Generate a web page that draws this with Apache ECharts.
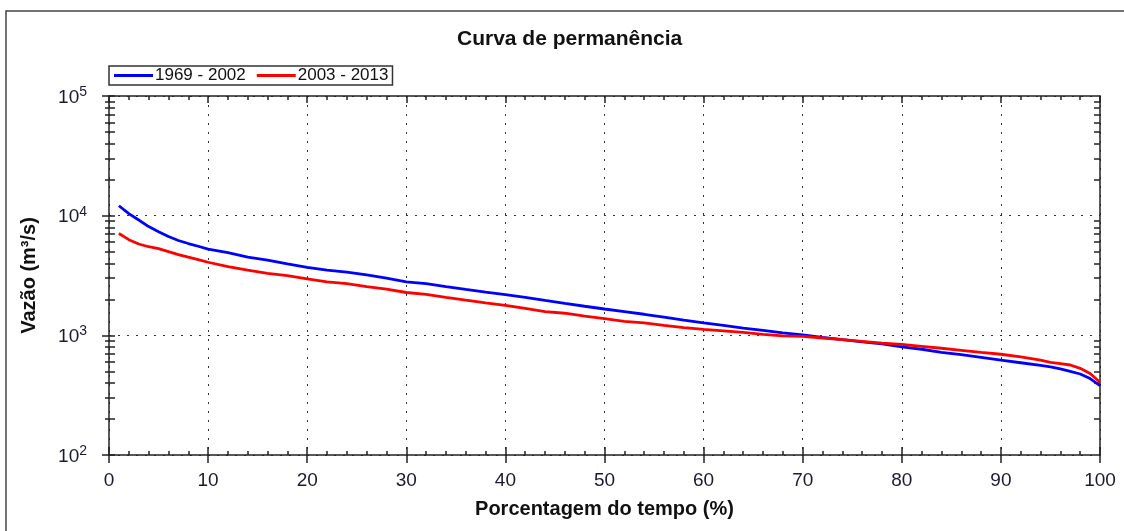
<!DOCTYPE html>
<html>
<head>
<meta charset="utf-8">
<script src="https://cdn.jsdelivr.net/npm/echarts@6/dist/echarts.min.js"></script>
<style>
  html, body { margin: 0; padding: 0; background: #fff; }
  #chart { width: 1124px; height: 531px; }
</style>
</head>
<body>
<div id="chart"></div>
<script>
// percent of time (x)
const pct = [1, 2, 3, 4, 5, 6, 7, 8, 9, 10, 12, 14, 16, 18, 20, 22, 24, 26, 28, 30,
    32, 34, 36, 38, 40, 42, 44, 46, 48, 50, 52, 54, 56, 58, 60, 62, 64, 66, 68, 70,
    72, 74, 76, 78, 80, 82, 84, 86, 88, 90, 92, 94, 95, 96, 97, 98, 99, 100];
// flow 1969 - 2002 (m3/s)
const flowA = [12100, 10400, 9200, 8100, 7350, 6700, 6200, 5850, 5550, 5250, 4900, 4500, 4250, 3950, 3700, 3500, 3380, 3200, 3000, 2800,
    2700, 2550, 2420, 2300, 2190, 2080, 1960, 1850, 1750, 1660, 1580, 1500, 1420, 1340, 1270, 1210, 1150, 1100, 1050, 1010,
    960, 920, 880, 850, 800, 765, 720, 690, 655, 620, 590, 560, 545, 525, 500, 475, 435, 380];
// flow 2003 - 2013 (m3/s)
const flowB = [7100, 6300, 5800, 5500, 5300, 5000, 4730, 4500, 4300, 4080, 3750, 3500, 3300, 3150, 2970, 2800, 2700, 2550, 2430, 2280,
    2200, 2080, 1970, 1870, 1780, 1680, 1580, 1530, 1450, 1380, 1310, 1270, 1210, 1160, 1120, 1090, 1060, 1020, 990, 980,
    950, 920, 890, 860, 840, 810, 780, 750, 720, 695, 660, 620, 595, 580, 565, 530, 480, 405];
const seriesNames = ["1969 - 2002", "2003 - 2013"];
const majorTicks = [100, 1000, 10000, 100000];
const minorTicks = [200, 300, 400, 500, 600, 700, 800, 900,
    2000, 3000, 4000, 5000, 6000, 7000, 8000, 9000,
    20000, 30000, 40000, 50000, 60000, 70000, 80000, 90000];

const chart = echarts.init(document.getElementById("chart"));
const axisColor = "#222";
const font = "'Liberation Sans', Arial, sans-serif";

const logAxis = (extra) => Object.assign({
    type: "log",
    logBase: 10,
    min: 100,
    max: 100000,
    axisLine: { show: false },
    axisTick: { show: false },
    axisLabel: { show: false },
    splitLine: { show: false }
}, extra);

const option = {
    animation: false,
    title: {
        text: "Curva de permanência",
        left: 452,
        top: 24,
        textStyle: { fontFamily: font, fontSize: 21, fontWeight: "bold", color: "#111" }
    },
    legend: {
        left: 109,
        top: 66,
        padding: [1, 4, 1, 5],
        itemGap: 11,
        itemWidth: 39,
        itemHeight: 3,
        icon: "rect",
        borderColor: "#333",
        borderWidth: 1.5,
        borderRadius: 0,
        textStyle: { fontFamily: font, fontSize: 17, color: "#111", padding: [0, 0, 0, -3] },
        data: seriesNames
    },
    graphic: [{
        type: "rect",
        shape: { x: 6, y: 11, width: 1200, height: 600 },
        style: { fill: null, stroke: "#444", lineWidth: 1.5 },
        silent: true
    }],
    grid: { left: 109, right: 24, top: 96, bottom: 76 },
    xAxis: [
        {
            type: "value", min: 0, max: 100, interval: 10, position: "bottom",
            name: "Porcentagem do tempo (%)",
            nameLocation: "middle",
            nameGap: 44,
            nameTextStyle: { fontFamily: font, fontSize: 20, fontWeight: "bold", color: "#111" },
            axisLine: { lineStyle: { color: axisColor, width: 1.5 } },
            axisTick: { inside: true, length: 8, lineStyle: { color: axisColor, width: 1.5 } },
            minorTick: { show: true, splitNumber: 5, length: 4, lineStyle: { color: axisColor, width: 1.5 } },
            axisLabel: { fontFamily: font, fontSize: 19, color: "#1a1a33", margin: 16 },
            splitLine: { show: true, lineStyle: { color: "#333", type: [2, 7], width: 1 } }
        },
        {
            type: "value", min: 0, max: 100, interval: 10, position: "bottom",
            axisLine: { show: false },
            axisTick: { length: 8, lineStyle: { color: axisColor, width: 1.5 } },
            axisLabel: { show: false },
            splitLine: { show: false }
        },
        {
            type: "value", min: 0, max: 100, interval: 10, position: "top",
            axisLine: { lineStyle: { color: axisColor, width: 1.5 } },
            axisTick: { inside: true, length: 7, lineStyle: { color: axisColor, width: 1.5 } },
            minorTick: { show: true, splitNumber: 5, length: 4, lineStyle: { color: axisColor, width: 1.5 } },
            axisLabel: { show: false },
            splitLine: { show: false }
        }
    ],
    yAxis: [
        logAxis({
            position: "left",
            name: "Vazão (m³/s)",
            nameLocation: "middle",
            nameGap: 70,
            nameRotate: 90,
            nameTextStyle: { fontFamily: font, fontSize: 20, fontWeight: "bold", color: "#111" },
            axisLine: { show: true, lineStyle: { color: axisColor, width: 1.5 } },
            axisTick: { show: true, length: 7, lineStyle: { color: axisColor, width: 1.5 } },
            axisLabel: {
                show: true,
                margin: 22,
                formatter: v => "{b|10}{s|" + Math.round(Math.log10(v)) + "}",
                rich: {
                    b: { fontFamily: font, fontSize: 19, color: "#1a1a33", verticalAlign: "bottom", lineHeight: 22, padding: [6, 0, 0, 0] },
                    s: { fontFamily: font, fontSize: 14, color: "#1a1a33", verticalAlign: "top", lineHeight: 22, padding: [0, 0, 6, 0] }
                }
            },
            splitLine: { show: true, lineStyle: { color: "#333", type: [2, 7], width: 1 } }
        }),
        logAxis({
            position: "left",
            axisTick: { show: true, inside: true, length: 6, customValues: majorTicks.concat(minorTicks),
                lineStyle: { color: axisColor, width: 1.5 } }
        }),
        logAxis({
            position: "left",
            axisTick: { show: true, length: 4, customValues: minorTicks,
                lineStyle: { color: axisColor, width: 1.5 } }
        }),
        logAxis({
            position: "right",
            axisLine: { show: true, lineStyle: { color: axisColor, width: 1.5 } },
            axisTick: { show: true, inside: true, length: 6, customValues: minorTicks,
                lineStyle: { color: axisColor, width: 1.5 } }
        })
    ],
    series: [
        {
            name: seriesNames[0],
            type: "line",
            xAxisIndex: 0,
            yAxisIndex: 0,
            showSymbol: false,
            color: "#0000ff",
            lineStyle: { width: 2.8, color: "#0000ff" },
            data: pct.map((p, i) => [p, flowA[i]])
        },
        {
            name: seriesNames[1],
            type: "line",
            xAxisIndex: 0,
            yAxisIndex: 0,
            showSymbol: false,
            color: "#ff0000",
            lineStyle: { width: 2.8, color: "#ff0000" },
            data: pct.map((p, i) => [p, flowB[i]])
        }
    ]
};

chart.setOption(option);
window.addEventListener("resize", () => chart.resize());
</script>
</body>
</html>
